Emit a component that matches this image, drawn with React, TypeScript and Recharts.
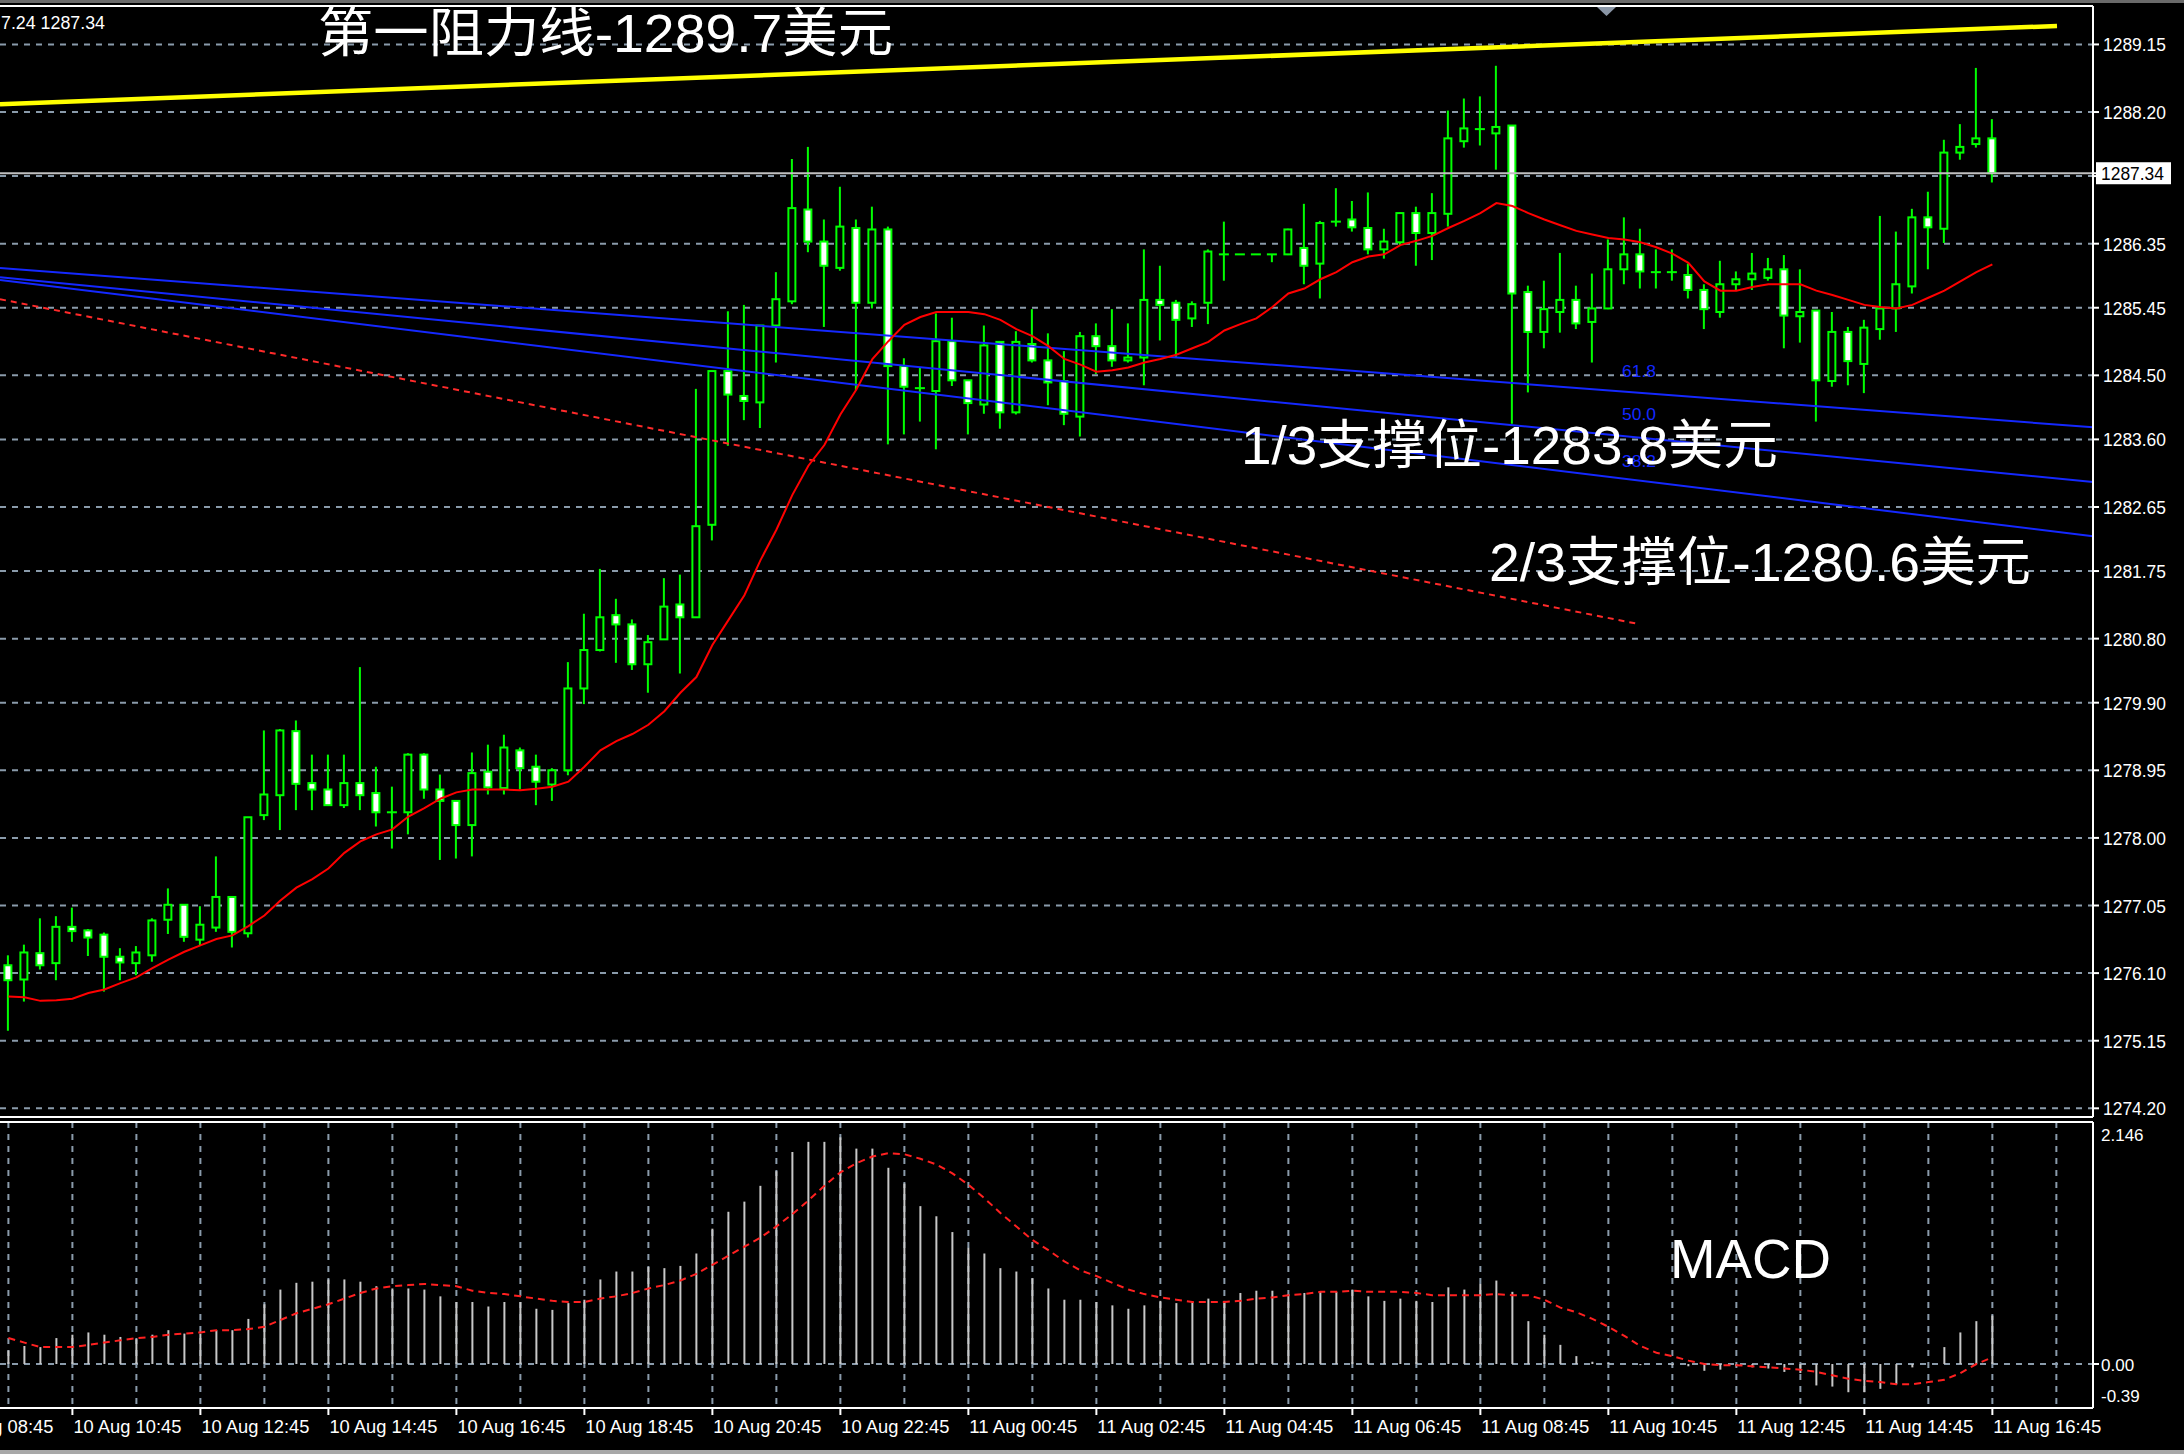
import React from 'react';
import { ComposedChart, Bar, Line, XAxis, YAxis, CartesianGrid, ReferenceLine } from 'recharts';

// ---------- data ----------
const candleOpen = [
  1276.21, 1276.01, 1276.38, 1276.24, 1276.75, 1276.70, 1276.64, 1276.33, 1276.24, 1276.35,
  1276.85, 1277.06, 1276.57, 1276.74, 1277.17, 1276.66, 1278.32, 1278.60, 1279.50, 1278.77,
  1278.68, 1278.46, 1278.77, 1278.63, 1278.36, 1278.36, 1279.17, 1278.68, 1278.52, 1278.18,
  1278.93, 1278.70, 1279.23, 1279.00, 1278.75, 1278.95, 1280.10, 1280.64, 1281.13, 1281.00,
  1280.44, 1280.79, 1281.28, 1281.10, 1282.40, 1284.56, 1284.21, 1284.12, 1285.20, 1285.54,
  1286.83, 1286.38, 1286.01, 1286.57, 1285.52, 1286.55, 1284.63, 1284.32, 1284.28, 1284.98,
  1284.43, 1284.09, 1284.97, 1283.98, 1284.94, 1284.71, 1284.42, 1283.92, 1285.05, 1284.91,
  1284.71, 1284.75, 1285.56, 1285.52, 1285.30, 1285.52, 1286.20, 1286.20, 1286.20, 1286.20,
  1286.20, 1286.29, 1286.07, 1286.66, 1286.69, 1286.57, 1286.27, 1286.37, 1286.78, 1286.50,
  1286.77, 1287.79, 1287.96, 1287.90, 1288.01, 1285.67, 1285.11, 1285.39, 1285.56, 1285.25,
  1285.44, 1285.99, 1286.20, 1285.95, 1285.95, 1285.91, 1285.70, 1285.39, 1285.78, 1285.85,
  1285.87, 1285.99, 1285.33, 1285.41, 1284.42, 1285.11, 1284.66, 1285.15, 1285.44, 1285.75,
  1286.72, 1286.56, 1287.63, 1287.75, 1287.83,
];
const candleHigh = [
  1276.35, 1276.50, 1276.87, 1276.90, 1277.02, 1276.72, 1276.67, 1276.45, 1276.48, 1276.87,
  1277.29, 1277.06, 1277.04, 1277.74, 1277.17, 1278.29, 1279.51, 1279.53, 1279.65, 1279.17,
  1279.17, 1279.17, 1280.40, 1279.00, 1278.72, 1279.19, 1279.19, 1278.89, 1278.52, 1279.20,
  1279.31, 1279.45, 1279.27, 1279.17, 1278.98, 1280.47, 1281.15, 1281.78, 1281.36, 1281.07,
  1280.85, 1281.65, 1281.70, 1284.31, 1284.56, 1285.40, 1285.49, 1285.20, 1285.95, 1287.54,
  1287.71, 1286.69, 1287.15, 1286.69, 1286.87, 1286.59, 1284.74, 1284.61, 1285.37, 1285.31,
  1284.43, 1285.20, 1284.97, 1285.12, 1285.43, 1285.09, 1284.84, 1285.11, 1285.23, 1285.43,
  1285.23, 1286.27, 1286.04, 1285.56, 1285.54, 1286.27, 1286.66, 1286.20, 1286.20, 1286.20,
  1286.56, 1286.91, 1286.67, 1287.13, 1286.95, 1287.07, 1286.56, 1286.79, 1286.87, 1287.06,
  1288.22, 1288.39, 1288.42, 1288.85, 1288.01, 1285.76, 1285.83, 1286.22, 1285.76, 1285.93,
  1286.41, 1286.72, 1286.56, 1286.27, 1286.27, 1286.07, 1285.78, 1286.11, 1285.96, 1286.22,
  1286.15, 1286.19, 1285.99, 1285.41, 1285.39, 1285.18, 1285.28, 1286.74, 1286.52, 1286.84,
  1287.08, 1287.81, 1288.03, 1288.82, 1288.10,
];
const candleLow = [
  1275.29, 1275.70, 1276.15, 1276.00, 1276.54, 1276.34, 1275.84, 1276.00, 1276.07, 1276.26,
  1276.65, 1276.54, 1276.49, 1276.68, 1276.46, 1276.60, 1278.25, 1278.11, 1278.39, 1278.39,
  1278.46, 1278.42, 1278.39, 1278.16, 1277.85, 1278.05, 1278.55, 1277.69, 1277.71, 1277.74,
  1278.61, 1278.61, 1278.68, 1278.46, 1278.52, 1278.88, 1279.88, 1280.62, 1280.46, 1280.36,
  1280.04, 1280.79, 1280.31, 1281.10, 1282.18, 1283.51, 1283.87, 1283.76, 1284.68, 1285.50,
  1286.23, 1285.18, 1285.97, 1284.29, 1285.44, 1283.53, 1283.67, 1283.85, 1283.46, 1284.35,
  1283.67, 1283.96, 1283.75, 1283.95, 1284.68, 1284.08, 1283.80, 1283.64, 1284.52, 1284.62,
  1284.68, 1284.36, 1284.99, 1284.75, 1285.18, 1285.22, 1285.83, 1286.20, 1286.20, 1286.09,
  1286.19, 1285.78, 1285.58, 1286.59, 1286.52, 1286.20, 1286.14, 1286.33, 1286.04, 1286.12,
  1286.59, 1287.70, 1287.73, 1287.39, 1283.82, 1284.26, 1284.88, 1285.10, 1285.15, 1284.68,
  1285.43, 1285.78, 1285.72, 1285.72, 1285.83, 1285.58, 1285.15, 1285.31, 1285.69, 1285.70,
  1285.83, 1284.88, 1284.96, 1283.85, 1284.34, 1284.36, 1284.25, 1285.00, 1285.11, 1285.65,
  1285.99, 1286.36, 1287.53, 1287.70, 1287.21,
];
const candleClose = [
  1276.00, 1276.39, 1276.21, 1276.75, 1276.69, 1276.60, 1276.33, 1276.25, 1276.39, 1276.84,
  1277.06, 1276.61, 1276.78, 1277.17, 1276.68, 1278.29, 1278.61, 1279.51, 1278.76, 1278.68,
  1278.46, 1278.77, 1278.60, 1278.36, 1278.36, 1279.17, 1278.68, 1278.52, 1278.18, 1278.91,
  1278.71, 1279.27, 1278.98, 1278.79, 1278.95, 1280.10, 1280.64, 1281.10, 1281.00, 1280.44,
  1280.75, 1281.25, 1281.10, 1282.38, 1284.56, 1284.23, 1284.14, 1285.20, 1285.57, 1286.85,
  1286.38, 1286.04, 1286.59, 1285.52, 1286.55, 1284.63, 1284.34, 1284.32, 1284.98, 1284.43,
  1284.11, 1284.92, 1283.98, 1284.97, 1284.71, 1284.40, 1283.96, 1285.05, 1284.91, 1284.71,
  1284.75, 1285.56, 1285.49, 1285.28, 1285.50, 1286.24, 1286.20, 1286.20, 1286.20, 1286.20,
  1286.55, 1286.04, 1286.64, 1286.66, 1286.58, 1286.27, 1286.38, 1286.78, 1286.50, 1286.78,
  1287.83, 1287.97, 1287.96, 1287.99, 1285.65, 1285.11, 1285.43, 1285.56, 1285.23, 1285.44,
  1285.99, 1286.20, 1285.96, 1285.95, 1285.95, 1285.70, 1285.43, 1285.78, 1285.85, 1285.93,
  1285.99, 1285.34, 1285.39, 1284.43, 1285.11, 1284.70, 1285.17, 1285.44, 1285.78, 1286.72,
  1286.58, 1287.63, 1287.71, 1287.83, 1287.34,
];
const maValues = [
  1275.77, 1275.76, 1275.71, 1275.72, 1275.74, 1275.82, 1275.87, 1275.96, 1276.04, 1276.17,
  1276.29, 1276.40, 1276.49, 1276.58, 1276.63, 1276.76, 1276.91, 1277.12, 1277.30, 1277.42,
  1277.57, 1277.79, 1277.95, 1278.05, 1278.12, 1278.30, 1278.42, 1278.55, 1278.64, 1278.68,
  1278.68, 1278.68, 1278.67, 1278.69, 1278.72, 1278.79, 1279.00, 1279.23, 1279.36, 1279.46,
  1279.59, 1279.78, 1280.04, 1280.26, 1280.71, 1281.06, 1281.41, 1281.90, 1282.33, 1282.82,
  1283.23, 1283.52, 1283.95, 1284.30, 1284.73, 1284.98, 1285.21, 1285.32, 1285.39, 1285.39,
  1285.39, 1285.36, 1285.28, 1285.15, 1285.05, 1284.91, 1284.73, 1284.65, 1284.55, 1284.57,
  1284.61, 1284.68, 1284.73, 1284.79, 1284.88, 1284.97, 1285.13, 1285.22, 1285.30, 1285.46,
  1285.65, 1285.72, 1285.85, 1285.95, 1286.09, 1286.17, 1286.20, 1286.33, 1286.39, 1286.46,
  1286.57, 1286.67, 1286.78, 1286.92, 1286.88, 1286.78, 1286.69, 1286.61, 1286.53, 1286.48,
  1286.43, 1286.41, 1286.37, 1286.30, 1286.21, 1286.08, 1285.82, 1285.69, 1285.69, 1285.74,
  1285.78, 1285.78, 1285.78, 1285.69, 1285.63, 1285.56, 1285.49, 1285.46, 1285.44, 1285.49,
  1285.59, 1285.69, 1285.82, 1285.95, 1286.06,
];
const macdHist = [
  0.12, 0.16, 0.15, 0.23, 0.26, 0.28, 0.26, 0.24, 0.22, 0.26,
  0.30, 0.27, 0.27, 0.30, 0.30, 0.40, 0.53, 0.66, 0.72, 0.73,
  0.75, 0.75, 0.73, 0.69, 0.67, 0.67, 0.66, 0.60, 0.55, 0.55,
  0.51, 0.55, 0.55, 0.49, 0.48, 0.54, 0.57, 0.75, 0.82, 0.82,
  0.86, 0.85, 0.87, 0.98, 1.20, 1.35, 1.44, 1.58, 1.71, 1.88,
  1.97, 1.97, 2.01, 1.91, 1.91, 1.74, 1.60, 1.40, 1.31, 1.17,
  1.03, 0.98, 0.85, 0.82, 0.76, 0.67, 0.57, 0.57, 0.55, 0.52,
  0.49, 0.52, 0.56, 0.54, 0.55, 0.58, 0.56, 0.63, 0.65, 0.65,
  0.62, 0.63, 0.64, 0.64, 0.66, 0.60, 0.56, 0.58, 0.56, 0.55,
  0.68, 0.66, 0.71, 0.74, 0.64, 0.38, 0.26, 0.17, 0.07, 0.02,
  0.01, 0.00, -0.01, 0.00, -0.01, -0.02, -0.06, -0.05, -0.02, -0.03,
  -0.04, -0.07, -0.08, -0.19, -0.20, -0.25, -0.25, -0.22, -0.18, -0.03,
  0.00, 0.15, 0.28, 0.38, 0.43,
];
const macdSignal = [
  0.23, 0.19, 0.15, 0.15, 0.15, 0.17, 0.19, 0.21, 0.23, 0.24,
  0.26, 0.27, 0.28, 0.30, 0.30, 0.31, 0.33, 0.39, 0.45, 0.49,
  0.53, 0.58, 0.63, 0.67, 0.69, 0.70, 0.71, 0.70, 0.69, 0.65,
  0.63, 0.62, 0.60, 0.58, 0.56, 0.55, 0.55, 0.58, 0.60, 0.63,
  0.67, 0.70, 0.74, 0.80, 0.88, 0.96, 1.04, 1.12, 1.22, 1.33,
  1.45, 1.58, 1.70, 1.78, 1.84, 1.87, 1.86, 1.82, 1.77, 1.69,
  1.59, 1.47, 1.34, 1.22, 1.10, 1.01, 0.91, 0.83, 0.78, 0.72,
  0.66, 0.62, 0.59, 0.57, 0.55, 0.55, 0.55, 0.56, 0.58, 0.59,
  0.61, 0.62, 0.64, 0.64, 0.65, 0.64, 0.64, 0.64, 0.63, 0.61,
  0.61, 0.61, 0.61, 0.62, 0.61, 0.61, 0.57, 0.50, 0.46, 0.40,
  0.33, 0.25, 0.16, 0.10, 0.07, 0.03, 0.00, -0.01, -0.01, -0.02,
  -0.03, -0.04, -0.05, -0.07, -0.10, -0.13, -0.15, -0.16, -0.18, -0.18,
  -0.16, -0.14, -0.08, 0.00, 0.06,
];

// trend lines (candle index, price)
const resistanceLine = [{ x: -0.525, y: 1288.31 }, { x: 128.04, y: 1289.41 }];
const fibLine618 = [{ x: -0.525, y: 1286.01 }, { x: 130.29, y: 1283.77 }];
const fibLine500 = [{ x: -0.525, y: 1285.88 }, { x: 130.29, y: 1283.0 }];
const fibLine382 = [{ x: -0.525, y: 1285.84 }, { x: 130.29, y: 1282.24 }];
const dottedLine = [{ x: -0.525, y: 1285.57 }, { x: 101.79, y: 1281.01 }];

// axes
const X_MIN = -0.525;
const X_MAX = 130.29;
const P_MIN = 1274.078;
const P_MAX = 1289.69;
const M_MIN = -0.39;
const M_MAX = 2.146;
const currentPrice = 1287.34;
const currentPriceLabel = '1287.34';
const priceGridValues = [
  1289.15, 1288.2, 1287.3, 1286.35, 1285.45, 1284.5, 1283.6, 1282.65,
  1281.75, 1280.8, 1279.9, 1278.95, 1278.0, 1277.05, 1276.1, 1275.15, 1274.2,
];
const priceTickLabels = [
  '1289.15', '1288.20', '', '1286.35', '1285.45', '1284.50', '1283.60', '1282.65',
  '1281.75', '1280.80', '1279.90', '1278.95', '1278.00', '1277.05', '1276.10', '1275.15', '1274.20',
];
const hourGridIdx = [
  0, 4, 8, 12, 16, 20, 24, 28, 32, 36, 40, 44, 48, 52, 56, 60, 64,
  68, 72, 76, 80, 84, 88, 92, 96, 100, 104, 108, 112, 116, 120, 124, 128,
];
const timeTickIdx = [-4, 4, 12, 20, 28, 36, 44, 52, 60, 68, 76, 84, 92, 100, 108, 116, 124];
const timeTickLabels = [
  '10 Aug 08:45', '10 Aug 10:45', '10 Aug 12:45', '10 Aug 14:45', '10 Aug 16:45', '10 Aug 18:45',
  '10 Aug 20:45', '10 Aug 22:45', '11 Aug 00:45', '11 Aug 02:45', '11 Aug 04:45', '11 Aug 06:45',
  '11 Aug 08:45', '11 Aug 10:45', '11 Aug 12:45', '11 Aug 14:45', '11 Aug 16:45',
];
const macdTickValues = [2.146, 0, -0.39];
const macdTickLabels = ['2.146', '0.00', '-0.39'];

const rows = candleOpen.map((o, i) => ({
  i,
  o,
  h: candleHigh[i],
  l: candleLow[i],
  c: candleClose[i],
  ma: maValues[i],
  hist: macdHist[i],
  signal: macdSignal[i],
}));

// ---------- styles ----------
const LIME = '#00ff00';
const GRID = '#8a9bab';
const GRID_DASH = '6 6';
const BLUE = '#1428ff';
const AXIS_FONT = '"Liberation Sans", Arial, sans-serif';
const BIG_FONT = '"Liberation Sans", Arial, "Noto Sans CJK SC", sans-serif';

const CandleShape = (props: any) => {
  const { x, y, width, height, payload } = props;
  if (x == null || y == null || !payload) return <g />;
  const cx = x + width / 2;
  const top = Math.min(y, y + height);
  const bottom = Math.max(y, y + height);
  const { o, h, l, c } = payload;
  const span = h - l;
  const ppu = span > 0 ? (bottom - top) / span : 0;
  const yOf = (v: number) => top + (h - v) * ppu;
  const yo = yOf(o);
  const yc = yOf(c);
  const bTop = Math.min(yo, yc);
  const bBot = Math.max(yo, yc);
  const bull = c > o;
  const bw = 7;
  return (
    <g>
      <line x1={cx} x2={cx} y1={top} y2={bottom} stroke={LIME} strokeWidth={2} />
      {bBot - bTop < 1.5 ? (
        <line x1={cx - 5} x2={cx + 5} y1={bTop} y2={bTop} stroke={LIME} strokeWidth={2} />
      ) : (
        <rect x={cx - bw / 2} y={bTop} width={bw} height={bBot - bTop} fill={bull ? '#000000' : '#ffffff'} stroke={LIME} strokeWidth={2} />
      )}
    </g>
  );
};

const PriceTick = (props: any) => {
  const { x, y, payload } = props;
  const v = payload.value;
  if (v === currentPrice) {
    return (
      <g>
        <rect x={x - 7} y={y - 11} width={75} height={22} fill="#ffffff" />
        <text x={x - 2} y={y + 7} fill="#000000" fontSize={18} fontFamily={AXIS_FONT} textLength={63} lengthAdjust="spacingAndGlyphs">
          {currentPriceLabel}
        </text>
      </g>
    );
  }
  const k = priceGridValues.indexOf(v);
  const label = k >= 0 ? priceTickLabels[k] : '';
  if (!label) return <g />;
  return (
    <text x={x} y={y + 7} fill="#ffffff" fontSize={18} fontFamily={AXIS_FONT} textLength={63} lengthAdjust="spacingAndGlyphs">
      {label}
    </text>
  );
};

const TimeTick = (props: any) => {
  const { x, y, payload } = props;
  const k = timeTickIdx.indexOf(payload.value);
  if (k < 0) return <g />;
  return (
    <g>
      <line x1={x} x2={x} y1={y} y2={y + 7} stroke="#ffffff" strokeWidth={2} />
      <text x={x + 1} y={y + 25} fill="#ffffff" fontSize={18} fontFamily={AXIS_FONT} textLength={108} lengthAdjust="spacingAndGlyphs">
        {timeTickLabels[k]}
      </text>
    </g>
  );
};

const MacdTick = (props: any) => {
  const { x, y, payload } = props;
  const k = macdTickValues.indexOf(payload.value);
  if (k < 0) return <g />;
  const dy = k === 0 ? 19 : k === 2 ? -6 : 7;
  return (
    <g>
      {k === 1 && <line x1={x - 8} x2={x - 2} y1={y} y2={y} stroke="#ffffff" strokeWidth={2} />}
      <text x={x} y={y + dy} fill="#ffffff" fontSize={17} fontFamily={AXIS_FONT}>
        {macdTickLabels[k]}
      </text>
    </g>
  );
};

export default function App() {
  return (
    <div style={{ position: 'absolute', left: 0, top: 0, width: 2184, height: 1454, background: '#000000', overflow: 'hidden' }}>
      <div style={{ position: 'absolute', left: 0, top: 0 }}>
        <ComposedChart width={2184} height={1120} data={rows} margin={{ top: 6, right: 0, bottom: 3, left: 0 }}>
          <CartesianGrid stroke={GRID} strokeDasharray={GRID_DASH} strokeWidth={2} horizontalValues={priceGridValues} verticalValues={hourGridIdx} />
          <XAxis type="number" dataKey="i" domain={[X_MIN, X_MAX]} allowDataOverflow ticks={hourGridIdx} interval={0} tick={false} axisLine={false} tickLine={false} height={0} />
          <YAxis
            orientation="right"
            width={91}
            type="number"
            domain={[P_MIN, P_MAX]}
            allowDataOverflow
            ticks={[...priceGridValues, currentPrice]}
            interval={0}
            tick={<PriceTick />}
            tickLine={{ stroke: '#ffffff', strokeWidth: 2 }}
            tickSize={6}
            tickMargin={4}
            axisLine={false}
          />
          <ReferenceLine segment={resistanceLine} stroke="#ffff00" strokeWidth={4.5} ifOverflow="visible" />
          <ReferenceLine segment={fibLine618} stroke={BLUE} strokeWidth={2} ifOverflow="visible" />
          <ReferenceLine segment={fibLine500} stroke={BLUE} strokeWidth={2} ifOverflow="visible" />
          <ReferenceLine segment={fibLine382} stroke={BLUE} strokeWidth={2} ifOverflow="visible" />
          <ReferenceLine segment={dottedLine} stroke="#ff2a2a" strokeWidth={2} strokeDasharray="6 5" ifOverflow="visible" />
          <Bar dataKey={(d: any) => [d.l, d.h]} barSize={9} shape={(p: any) => <CandleShape {...p} />} isAnimationActive={false} />
          <Line type="linear" dataKey="ma" stroke="#ff0000" strokeWidth={2} dot={false} activeDot={false} isAnimationActive={false} />
          <ReferenceLine y={currentPrice} stroke="#c0c0c0" strokeWidth={2} />
          <ReferenceLine y={P_MAX} stroke="#ffffff" strokeWidth={2} />
          <ReferenceLine y={P_MIN} stroke="#ffffff" strokeWidth={2} />
          <ReferenceLine x={X_MAX} stroke="#ffffff" strokeWidth={2} />
        </ComposedChart>
      </div>
      <div style={{ position: 'absolute', left: 0, top: 1118 }}>
        <ComposedChart width={2184} height={336} data={rows} margin={{ top: 4, right: 0, bottom: 0, left: 0 }}>
          <CartesianGrid stroke={GRID} strokeDasharray={GRID_DASH} strokeWidth={2} horizontalValues={[0]} verticalValues={hourGridIdx} />
          <XAxis
            type="number"
            dataKey="i"
            domain={[X_MIN, X_MAX]}
            allowDataOverflow
            ticks={[-4, ...hourGridIdx]}
            interval={0}
            height={46}
            tick={<TimeTick />}
            tickLine={false}
            tickSize={0}
            tickMargin={0}
            axisLine={{ stroke: '#ffffff', strokeWidth: 2 }}
          />
          <YAxis
            orientation="right"
            width={91}
            type="number"
            domain={[M_MIN, M_MAX]}
            allowDataOverflow
            ticks={macdTickValues}
            interval={0}
            tick={<MacdTick />}
            tickLine={false}
            tickSize={6}
            tickMargin={2}
            axisLine={false}
          />
          <Bar dataKey="hist" barSize={2} fill="#c8c8c8" isAnimationActive={false} />
          <Line type="linear" dataKey="signal" stroke="#ff2020" strokeWidth={2} strokeDasharray="7 5" dot={false} activeDot={false} isAnimationActive={false} />
          <ReferenceLine y={M_MAX} stroke="#ffffff" strokeWidth={2} />
          <ReferenceLine x={X_MAX} stroke="#ffffff" strokeWidth={2} />
        </ComposedChart>
      </div>
      <svg width={2184} height={1454} style={{ position: 'absolute', left: 0, top: 0, pointerEvents: 'none' }}>
        <rect x={0} y={0} width={2184} height={3} fill="#6a6a6a" />
        <rect x={0} y={1450} width={2184} height={4} fill="#a8a8a8" />
        <polygon points="1597,7 1616,7 1606.5,16" fill="#8a96a6" />
        <text x={1} y={29} fill="#ffffff" fontSize={18} fontFamily={AXIS_FONT} textLength={104} lengthAdjust="spacingAndGlyphs">7.24 1287.34</text>
        <text x={1622} y={377} fill={BLUE} fontSize={16} fontFamily={AXIS_FONT} textLength={34} lengthAdjust="spacingAndGlyphs">61.8</text>
        <text x={1622} y={420} fill={BLUE} fontSize={16} fontFamily={AXIS_FONT} textLength={34} lengthAdjust="spacingAndGlyphs">50.0</text>
        <text x={1622} y={467} fill={BLUE} fontSize={16} fontFamily={AXIS_FONT} textLength={34} lengthAdjust="spacingAndGlyphs">38.2</text>
        <text x={318} y={52} fill="#ffffff" fontSize={53} fontFamily={BIG_FONT} textLength={575} lengthAdjust="spacingAndGlyphs">第一阻力线-1289.7美元</text>
        <text x={1241} y={464} fill="#ffffff" fontSize={53} fontFamily={BIG_FONT} textLength={537} lengthAdjust="spacingAndGlyphs">1/3支撑位-1283.8美元</text>
        <text x={1489} y={581} fill="#ffffff" fontSize={53} fontFamily={BIG_FONT} textLength={542} lengthAdjust="spacingAndGlyphs">2/3支撑位-1280.6美元</text>
        <text x={1670} y={1278} fill="#ffffff" fontSize={56} fontFamily={BIG_FONT} textLength={161} lengthAdjust="spacingAndGlyphs">MACD</text>
      </svg>
    </div>
  );
}
